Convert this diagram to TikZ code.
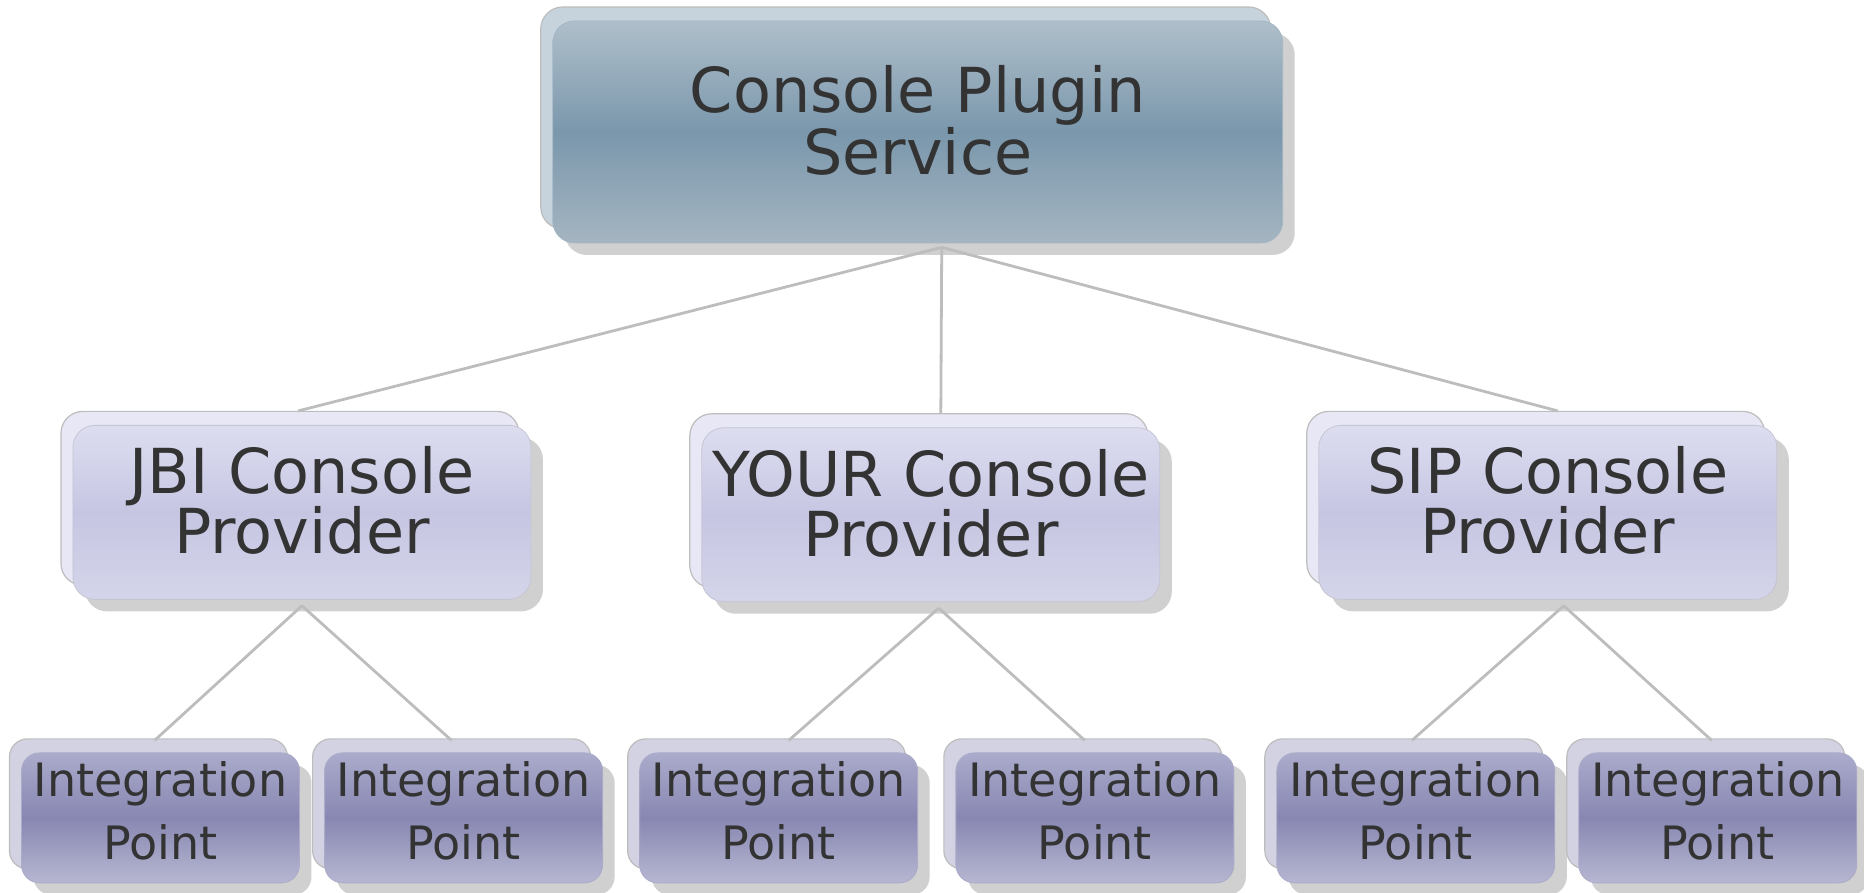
\documentclass[tikz,border=0pt]{standalone}
\usepackage{fontspec}
\setmainfont{DejaVu Sans}
\usetikzlibrary{shadows}
\definecolor{txtgray}{HTML}{333333}
\definecolor{linegray}{HTML}{BDBDBD}
\definecolor{shadegray}{HTML}{D0D0D0}
\definecolor{topA}{HTML}{AFBFCA}
\definecolor{topB}{HTML}{7A97AC}
\definecolor{topC}{HTML}{A5B5C1}
\definecolor{topback}{HTML}{C6D3DC}
\definecolor{midA}{HTML}{DDDDF0}
\definecolor{midB}{HTML}{C6C6E3}
\definecolor{midC}{HTML}{D4D4E9}
\definecolor{midback}{HTML}{E7E7F5}
\definecolor{lowA}{HTML}{ABABCC}
\definecolor{lowB}{HTML}{8787B2}
\definecolor{lowC}{HTML}{B7B7D2}
\definecolor{lowback}{HTML}{D2D2E3}
\newcommand{\lowstrut}[1]{\rule[-#1]{0pt}{#1}}
\begin{document}
\begin{tikzpicture}[x=0.5944pt, y=-0.5944pt, inner sep=0mm,
		boxstyle/.style={rounded corners=11pt, align=center, text=txtgray,
			general shadow={shadow xshift=6pt, shadow yshift=-6pt, fill=shadegray},
			general shadow={shadow xshift=-6pt, shadow yshift=7pt, #1, draw=linegray, line width=0.6pt}},
		servicestyle/.style={boxstyle={fill=topback}, draw=topB!70, top color=topA, bottom color=topC, middle color=topB,
			minimum width=365pt, minimum height=111pt, font=\fontsize{31}{30}\selectfont},
		providerstyle/.style={boxstyle={fill=midback}, draw=midB!80!black!60, top color=midA, bottom color=midC, middle color=midB,
			minimum width=229pt, minimum height=87pt, font=\fontsize{31}{30}\selectfont},
		pointstyle/.style={boxstyle={fill=lowback}, rounded corners=9pt, draw=lowB!70, top color=lowA, bottom color=lowC, middle color=lowB,
			minimum width=139pt, minimum height=65pt, font=\fontsize{23}{31.5}\selectfont},
		edgestyle/.style={draw=linegray, line width=1.4pt}]

		\useasboundingbox (0,0) rectangle (1568,751);

		\node [servicestyle] (service) at (772,111) {Console Plugin\\Service\lowstrut{12pt}};

		\node [providerstyle] (jbi) at (254,431) {JBI Console\\Provider\lowstrut{12pt}};
		\node [providerstyle] (your) at (783,433) {YOUR Console\\Provider\lowstrut{12pt}};
		\node [providerstyle] (sip) at (1302,431) {SIP Console\\Provider\lowstrut{12pt}};

		\node [pointstyle] (ip1) at (135,688) {Integration\\Point\lowstrut{7pt}};
		\node [pointstyle] (ip2) at (390,688) {Integration\\Point\lowstrut{7pt}};
		\node [pointstyle] (ip3) at (655,688) {Integration\\Point\lowstrut{7pt}};
		\node [pointstyle] (ip4) at (921,688) {Integration\\Point\lowstrut{7pt}};
		\node [pointstyle] (ip5) at (1191,688) {Integration\\Point\lowstrut{7pt}};
		\node [pointstyle] (ip6) at (1445,688) {Integration\\Point\lowstrut{7pt}};

		\draw [edgestyle] ([xshift=12pt,yshift=-2pt]service.south) -- ([xshift=-2pt,yshift=7pt]jbi.north);
		\draw [edgestyle] ([xshift=12pt,yshift=-2pt]service.south) -- ([xshift=5pt,yshift=7pt]your.north);
		\draw [edgestyle] ([xshift=12pt,yshift=-2pt]service.south) -- ([xshift=5pt,yshift=7pt]sip.north);

		\draw [edgestyle] ([yshift=-3pt]jbi.south) -- ([xshift=-3pt,yshift=6pt]ip1.north);
		\draw [edgestyle] ([yshift=-3pt]jbi.south) -- ([xshift=-6pt,yshift=6pt]ip2.north);
		\draw [edgestyle] ([xshift=4pt,yshift=-3pt]your.south) -- ([xshift=5pt,yshift=6pt]ip3.north);
		\draw [edgestyle] ([xshift=4pt,yshift=-3pt]your.south) -- ([xshift=-5pt,yshift=6pt]ip4.north);
		\draw [edgestyle] ([xshift=8pt,yshift=-3pt]sip.south) -- ([xshift=-2pt,yshift=6pt]ip5.north);
		\draw [edgestyle] ([xshift=8pt,yshift=-3pt]sip.south) -- ([xshift=-3pt,yshift=6pt]ip6.north);
		\end{tikzpicture}
\end{document}
